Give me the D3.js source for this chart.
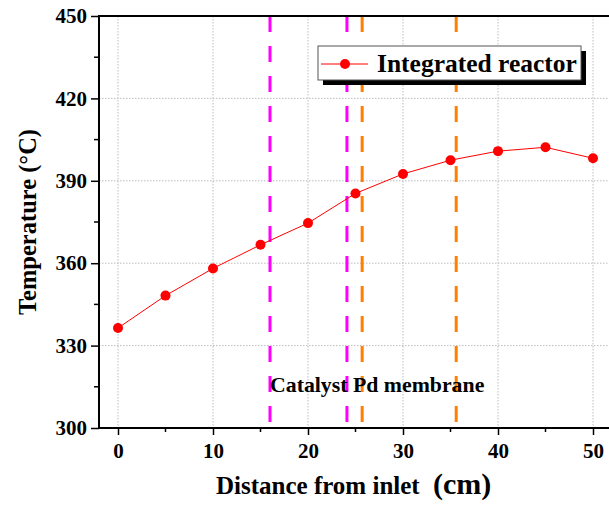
<!DOCTYPE html>
<html>
<head>
<meta charset="utf-8">
<script src="https://cdn.jsdelivr.net/npm/d3@7"></script>
<style>
  html, body { margin: 0; padding: 0; background: #fff; }
  svg { display: block; }
  text { font-family: "Liberation Serif", "Times New Roman", serif; font-weight: bold; fill: #000; }
</style>
</head>
<body>
<svg id="chart" width="609" height="508"></svg>
<script>
// Temperature profile along the integrated reactor
const distance = [0, 5, 10, 15, 20, 25, 30, 35, 40, 45, 50];
const temperature = [336.4, 348.2, 358.1, 366.7, 374.6, 385.4, 392.5, 397.5, 400.8, 402.2, 398.2];

// Zone boundaries (cm): catalyst bed and Pd membrane section
const catalystBounds = [16.0, 24.1];
const membraneBounds = [25.7, 35.6];

const xTicks = [0, 10, 20, 30, 40, 50];
const xMinorTicks = [5, 15, 25, 35, 45];
const yTicks = [300, 330, 360, 390, 420, 450];
const yMinorTicks = [315, 345, 375, 405, 435];

const seriesName = "Integrated reactor";
const zoneLabel = "Catalyst Pd membrane";

const svg = d3.select("#chart");

const plotLeft = 99, plotRight = 612, plotTop = 16, plotBottom = 428;
const x = d3.scaleLinear().domain([-2, 52]).range([plotLeft, plotRight]);
const y = d3.scaleLinear().domain([300, 450]).range([plotBottom, plotTop]);

// Dotted grid at major ticks
const grid = svg.append("g")
  .attr("stroke", "#bdbdbd").attr("stroke-width", 1).attr("stroke-dasharray", "1.5,1.5");
grid.append("g").selectAll("line").data(xTicks).join("line")
  .attr("x1", d => x(d)).attr("x2", d => x(d))
  .attr("y1", plotTop).attr("y2", plotBottom);
grid.append("g").selectAll("line").data(yTicks.filter(d => d > 300 && d < 450)).join("line")
  .attr("x1", plotLeft).attr("x2", plotRight)
  .attr("y1", d => y(d)).attr("y2", d => y(d));

// Zone boundary markers
const zones = [
  ...catalystBounds.map(v => ({ v, c: "#ff00ff" })),
  ...membraneBounds.map(v => ({ v, c: "#ff8000" }))
];
svg.append("g").selectAll("line").data(zones).join("line")
  .attr("x1", d => x(d.v)).attr("x2", d => x(d.v))
  .attr("y1", plotTop).attr("y2", plotBottom)
  .attr("stroke", d => d.c).attr("stroke-width", 3)
  .attr("stroke-dasharray", "16,14");

svg.append("text")
  .attr("x", x(catalystBounds[0])).attr("y", 392)
  .attr("font-size", 21.8)
  .text(zoneLabel);

// Series line and markers
const line = d3.line().x((d, i) => x(distance[i])).y(d => y(d));
svg.append("path").datum(temperature)
  .attr("d", line).attr("fill", "none")
  .attr("stroke", "#ff0000").attr("stroke-width", 1);
svg.append("g").selectAll("circle").data(temperature).join("circle")
  .attr("cx", (d, i) => x(distance[i])).attr("cy", d => y(d))
  .attr("r", 5).attr("fill", "#ff0000");

// Axes
const xAxis = d3.axisBottom(x).tickValues(xTicks).tickSize(7).tickPadding(8).tickFormat(d3.format("d"));
const gx = svg.append("g").attr("transform", `translate(0,${plotBottom})`).call(xAxis);
gx.select(".domain").remove();
gx.append("g").selectAll("line").data(xMinorTicks).join("line")
  .attr("x1", d => x(d)).attr("x2", d => x(d)).attr("y1", 0).attr("y2", 4)
  .attr("stroke", "#000").attr("stroke-width", 1.5);
gx.selectAll(".tick line").attr("stroke-width", 1.5);
gx.selectAll(".tick text").attr("font-size", 21).attr("font-family", "Liberation Serif").attr("font-weight", "bold").attr("fill", "#000");

const yAxis = d3.axisLeft(y).tickValues(yTicks).tickSize(8).tickPadding(4).tickFormat(d3.format("d"));
const gy = svg.append("g").attr("transform", `translate(${plotLeft},0)`).call(yAxis);
gy.select(".domain").remove();
gy.append("g").selectAll("line").data(yMinorTicks).join("line")
  .attr("x1", 0).attr("x2", -5).attr("y1", d => y(d)).attr("y2", d => y(d))
  .attr("stroke", "#000").attr("stroke-width", 1.5);
gy.selectAll(".tick line").attr("stroke-width", 1.5);
gy.selectAll(".tick text").attr("font-size", 21).attr("font-family", "Liberation Serif").attr("font-weight", "bold").attr("fill", "#000");

// Frame lines: left, bottom, top
svg.append("line").attr("x1", plotLeft).attr("x2", plotLeft).attr("y1", plotTop - 1).attr("y2", plotBottom + 1)
  .attr("stroke", "#000").attr("stroke-width", 2);
svg.append("line").attr("x1", plotLeft - 1).attr("x2", plotRight).attr("y1", plotBottom).attr("y2", plotBottom)
  .attr("stroke", "#000").attr("stroke-width", 2);
svg.append("line").attr("x1", plotLeft - 1).attr("x2", plotRight).attr("y1", plotTop).attr("y2", plotTop)
  .attr("stroke", "#000").attr("stroke-width", 2);

// Axis titles
const xt = svg.append("text")
  .attr("x", 216).attr("y", 494).attr("font-size", 25);
xt.append("tspan").text("Distance from inlet");
xt.append("tspan").attr("x", 433).attr("font-size", 30).text("(cm)");
svg.append("text")
  .attr("transform", `translate(36,${(plotTop + plotBottom) / 2}) rotate(-90)`)
  .attr("text-anchor", "middle").attr("font-size", 24.5)
  .text("Temperature (°C)");

// Legend with drop shadow
const lg = svg.append("g");
const lx = 318, ly = 46, lw = 263, lh = 34;
lg.append("rect").attr("x", lx + 5).attr("y", ly + 5).attr("width", lw).attr("height", lh).attr("fill", "#000");
lg.append("rect").attr("x", lx).attr("y", ly).attr("width", lw).attr("height", lh)
  .attr("fill", "#fff").attr("stroke", "#555").attr("stroke-width", 1);
lg.append("line").attr("x1", lx + 3).attr("x2", lx + 50).attr("y1", ly + 18).attr("y2", ly + 18)
  .attr("stroke", "#ff0000").attr("stroke-width", 1);
lg.append("circle").attr("cx", lx + 27).attr("cy", ly + 18).attr("r", 5).attr("fill", "#ff0000");
lg.append("text").attr("x", lx + 59).attr("y", ly + 26).attr("font-size", 25.5).text(seriesName);
</script>
</body>
</html>
